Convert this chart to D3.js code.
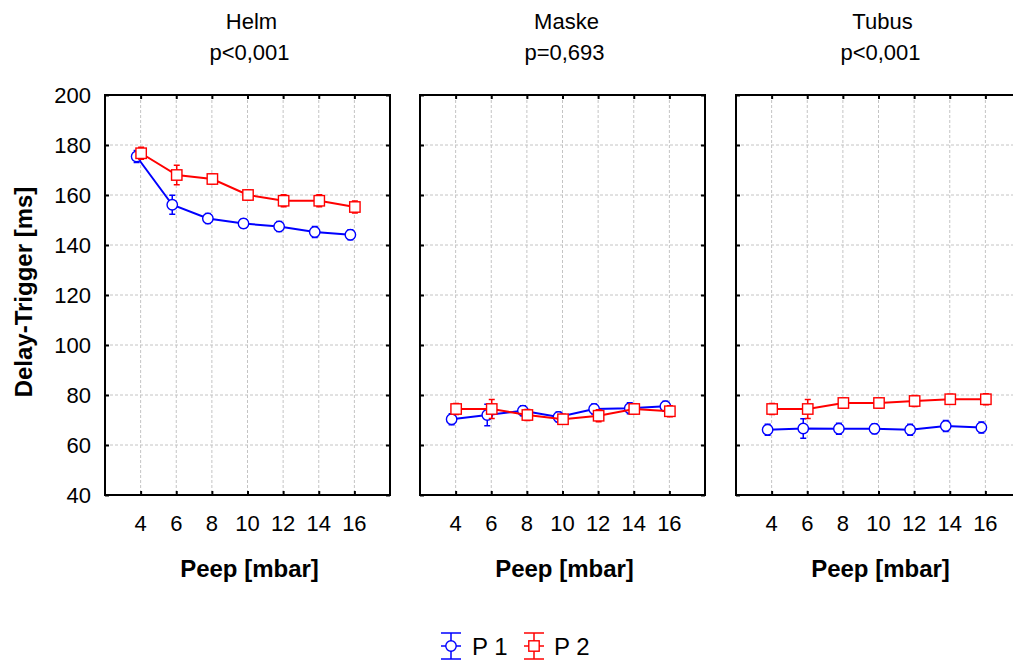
<!DOCTYPE html>
<html>
<head>
<meta charset="utf-8">
<script src="https://cdn.jsdelivr.net/npm/d3@7/dist/d3.min.js"></script>
<style>
  html, body { margin: 0; padding: 0; background: #fff; overflow: hidden; }
  svg { display: block; font-family: "Liberation Sans", Arial, sans-serif; }
</style>
</head>
<body>
<svg id="chart" width="1013" height="666"></svg>
<script>
// Delay-Trigger by PEEP level, split by interface
const panels = ["Helm", "Maske", "Tubus"];
const pValues = ["p<0,001", "p=0,693", "p<0,001"];
const peep = [4, 6, 8, 10, 12, 14, 16];
const yTicks = [40, 60, 80, 100, 120, 140, 160, 180, 200];
const seriesNames = ["P 1", "P 2"];

// mean values, one array per interface and series
const helmP1 = [175.4, 156.1, 150.6, 148.6, 147.4, 145.2, 144.1];
const helmP2 = [176.7, 168.0, 166.4, 160.0, 157.7, 157.7, 155.2];
const maskeP1 = [70.3, 72.0, 73.7, 71.2, 74.4, 74.7, 75.5];
const maskeP2 = [74.4, 74.4, 72.0, 70.3, 71.7, 74.4, 73.5];
const tubusP1 = [66.1, 66.6, 66.5, 66.5, 66.1, 67.6, 67.0];
const tubusP2 = [74.4, 74.4, 76.8, 76.8, 77.6, 78.3, 78.3];

// error bar half-widths
const helmP1Err = [2.4, 3.8, 2.0, 1.8, 2.0, 2.2, 2.0];
const helmP2Err = [2.4, 3.9, 2.0, 2.0, 2.4, 2.4, 2.4];
const maskeP1Err = [2.2, 4.3, 2.0, 2.0, 2.0, 2.2, 2.0];
const maskeP2Err = [2.2, 3.8, 2.2, 2.0, 2.4, 2.0, 2.2];
const tubusP1Err = [2.2, 3.9, 2.2, 2.0, 2.2, 2.2, 2.2];
const tubusP2Err = [2.2, 3.8, 2.0, 2.0, 2.2, 2.0, 2.2];

const means = [[helmP1, helmP2], [maskeP1, maskeP2], [tubusP1, tubusP2]];
const errs = [[helmP1Err, helmP2Err], [maskeP1Err, maskeP2Err], [tubusP1Err, tubusP2Err]];

const colors = ["#0000ff", "#ff0000"];
const shapes = ["circle", "square"];
const dodge = [-4, 0.5];

const svg = d3.select("#chart");
const plotTop = 95, plotBottom = 495, panelW = 285;
const panelLeft = [105, 420, 736];

const y = d3.scaleLinear().domain([40, 200]).range([plotBottom, plotTop]);

function drawMarker(g, shape, cx, cy, color) {
  if (shape === "circle") {
    g.append("circle").attr("cx", cx).attr("cy", cy).attr("r", 5.2)
      .attr("fill", "#fff").attr("stroke", color).attr("stroke-width", 1.4);
  } else {
    g.append("rect").attr("x", cx - 5.2).attr("y", cy - 5.2).attr("width", 10.4).attr("height", 10.4)
      .attr("fill", "#fff").attr("stroke", color).attr("stroke-width", 1.4);
  }
}

panels.forEach((name, pi) => {
  const x0 = panelLeft[pi];
  const x = d3.scaleLinear().domain([2, 18]).range([x0, x0 + panelW]);
  const g = svg.append("g");

  // grid
  g.selectAll(".gy").data(yTicks.slice(1, -1)).enter().append("line")
    .attr("x1", x0).attr("x2", x0 + panelW)
    .attr("y1", d => y(d)).attr("y2", d => y(d))
    .attr("stroke", "#c4c4c4").attr("stroke-width", 1).attr("stroke-dasharray", "3,2");
  g.selectAll(".gx").data(peep).enter().append("line")
    .attr("x1", d => x(d)).attr("x2", d => x(d))
    .attr("y1", plotTop).attr("y2", plotBottom)
    .attr("stroke", "#c4c4c4").attr("stroke-width", 1).attr("stroke-dasharray", "3,2");

  // frame
  g.append("rect").attr("x", x0).attr("y", plotTop).attr("width", panelW).attr("height", plotBottom - plotTop)
    .attr("fill", "none").attr("stroke", "#000").attr("stroke-width", 2);

  // inward ticks
  const axB = d3.axisBottom(x).tickValues(peep).tickSize(-4).tickFormat("");
  const axT = d3.axisTop(x).tickValues(peep).tickSize(-4).tickFormat("");
  const axL = d3.axisLeft(y).tickValues(yTicks).tickSize(-4).tickFormat("");
  const axR = d3.axisRight(y).tickValues(yTicks).tickSize(-4).tickFormat("");
  [[axB, `translate(0,${plotBottom})`], [axT, `translate(0,${plotTop})`],
   [axL, `translate(${x0},0)`], [axR, `translate(${x0 + panelW},0)`]].forEach(([ax, tr]) => {
    const a = g.append("g").attr("transform", tr).call(ax);
    a.select(".domain").remove();
    a.selectAll("line").attr("stroke", "#000").attr("stroke-width", 2);
  });

  // x tick labels
  g.selectAll(".xl").data(peep).enter().append("text")
    .attr("x", d => x(d)).attr("y", 531).attr("text-anchor", "middle")
    .attr("font-size", 22).attr("fill", "#000").text(d => d);

  // y tick labels on the first panel
  if (pi === 0) {
    g.selectAll(".yl").data(yTicks).enter().append("text")
      .attr("x", 91).attr("y", d => y(d) + 8).attr("text-anchor", "end")
      .attr("font-size", 22).attr("fill", "#000").text(d => d);
  }

  // titles
  const cx = x0 + panelW / 2;
  g.append("text").attr("x", cx + 4).attr("y", 29).attr("text-anchor", "middle")
    .attr("font-size", 22).text(name);
  g.append("text").attr("x", cx + 2).attr("y", 60).attr("text-anchor", "middle")
    .attr("font-size", 22).text(pValues[pi]);

  // x axis title
  g.append("text").attr("x", cx + 2).attr("y", 577).attr("text-anchor", "middle")
    .attr("font-size", 24).attr("font-weight", "bold").text("Peep [mbar]");

  // series
  [0, 1].forEach(si => {
    const vals = means[pi][si], e = errs[pi][si], col = colors[si];
    const px = i => x(peep[i]) + dodge[si];
    const line = d3.line().x((d, i) => px(i)).y(d => y(d));
    g.append("path").datum(vals).attr("d", line)
      .attr("fill", "none").attr("stroke", col).attr("stroke-width", 2);
    vals.forEach((v, i) => {
      const xx = px(i);
      g.append("line").attr("x1", xx).attr("x2", xx)
        .attr("y1", y(v - e[i])).attr("y2", y(v + e[i]))
        .attr("stroke", col).attr("stroke-width", 1.5);
      [v - e[i], v + e[i]].forEach(w => {
        g.append("line").attr("x1", xx - 3).attr("x2", xx + 3)
          .attr("y1", y(w)).attr("y2", y(w))
          .attr("stroke", col).attr("stroke-width", 1.5);
      });
    });
    vals.forEach((v, i) => drawMarker(g, shapes[si], px(i), y(v), col));
  });
});

// y axis title
svg.append("text")
  .attr("transform", `translate(32,${(plotTop + plotBottom) / 2 - 3}) rotate(-90)`)
  .attr("text-anchor", "middle").attr("font-size", 24).attr("font-weight", "bold")
  .text("Delay-Trigger [ms]");

// legend
const legendItems = [{ cx: 451, tx: 472 }, { cx: 534, tx: 554 }];
seriesNames.forEach((s, si) => {
  const lg = svg.append("g");
  const { cx, tx } = legendItems[si];
  const col = colors[si];
  const cy = 646;
  lg.append("line").attr("x1", cx).attr("x2", cx).attr("y1", cy - 13).attr("y2", cy + 13)
    .attr("stroke", col).attr("stroke-width", 1.5);
  [cy - 13, cy, cy + 13].forEach(yy => {
    lg.append("line").attr("x1", cx - 10).attr("x2", cx + 10).attr("y1", yy).attr("y2", yy)
      .attr("stroke", col).attr("stroke-width", 1.5);
  });
  drawMarker(lg, shapes[si], cx, cy, col);
  lg.append("text").attr("x", tx).attr("y", cy + 9).attr("font-size", 24).text(s);
});
</script>
</body>
</html>
